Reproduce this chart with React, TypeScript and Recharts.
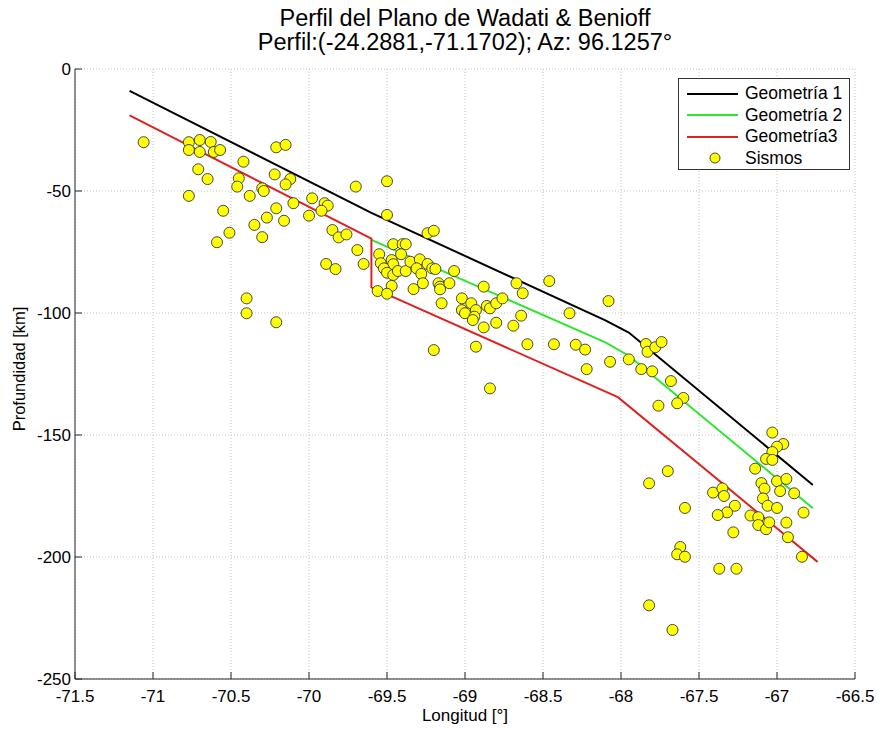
import { ComposedChart, Line, Scatter, XAxis, YAxis, CartesianGrid, Legend } from 'recharts'

const xTicks = [-71.5, -71, -70.5, -70, -69.5, -69, -68.5, -68, -67.5, -67, -66.5]
const yTicks = [-250, -200, -150, -100, -50, 0]

// Geometría 1 (negra)
const geom1Lon = [-71.15, -69.6, -68.1, -67.95, -66.77]
const geom1Depth = [-9, -59, -103, -108, -170.5]

// Geometría 2 (verde)
const geom2Lon = [-69.6, -68.1, -67.95, -66.77]
const geom2Depth = [-70, -112, -117.5, -180]

// Geometría3 (roja), con el salto vertical en -69.6
const geom3Lon = [-71.15, -69.6, -69.6, -68.02, -66.74]
const geom3Depth = [-19, -69.5, -89.5, -134.5, -202]

// sismos
const sismosLon = [
  -71.06, -70.77, -70.77, -70.70, -70.70, -70.63, -70.61, -70.57, -70.71, -70.65,
  -70.77, -70.42, -70.45, -70.46, -70.38, -70.55, -70.51, -70.59, -70.35, -70.30,
  -70.30, -70.29, -70.27, -70.21, -70.15, -70.22, -70.12, -70.15, -70.10, -70.21,
  -70.16, -70.21, -70.40, -70.40, -69.98, -70.00, -69.90, -69.88, -69.92, -69.85,
  -69.81, -69.76, -69.89, -69.83, -69.70, -69.69,
  -69.50, -69.50, -69.24, -69.20, -69.65, -69.55, -69.46, -69.40, -69.38, -69.41,
  -69.54, -69.47, -69.46, -69.52, -69.50, -69.46, -69.43, -69.38, -69.35, -69.29,
  -69.31, -69.28, -69.24, -69.21, -69.19, -69.27, -69.33, -69.47, -69.56, -69.50,
  -69.17, -69.16, -69.16, -69.10, -69.07, -69.15, -69.20, -69.02, -68.96, -69.02,
  -69.00, -68.93, -68.94, -68.95, -68.88, -68.86, -68.84, -68.80, -68.76, -68.88,
  -68.80, -68.93, -68.84, -68.67, -68.63, -68.69, -68.64, -68.60, -68.46, -68.43,
  -68.08, -68.33, -68.29, -68.23, -68.22, -68.07, -67.95, -67.84, -67.83, -67.78,
  -67.74, -67.87, -67.80, -67.68, -67.60, -67.64, -67.76, -67.03, -66.96, -67.00,
  -67.03, -67.07, -67.03, -67.14, -67.70, -67.82, -67.10, -67.08, -67.00, -66.94,
  -66.98, -66.89, -67.41, -67.35, -67.34, -67.59, -67.09, -67.06, -67.00, -67.27,
  -67.32, -67.38, -67.17, -67.12, -67.12, -67.07, -67.05, -66.94, -66.83, -67.28,
  -66.93, -66.84, -67.62, -67.64, -67.59, -67.37, -67.26, -67.82, -67.67,
]
const sismosDepth = [
  -30, -30, -33.2, -29.1, -34, -29.9, -34, -33.2, -41.1, -45.1,
  -52, -38, -44.8, -48.2, -52, -58.1, -67.1, -71, -63.9, -68.9,
  -48.9, -50, -60.9, -32.1, -31.1, -43.2, -45.1, -47.3, -55, -57.1,
  -62.2, -103.8, -94, -100.1, -53, -60.1, -55, -56, -58.1, -66,
  -69, -67.8, -79.9, -82, -48.2, -74.2,
  -46, -59.8, -67.3, -66.3, -79.9, -75.9, -71.8, -71.8, -71.8, -75.9,
  -79.6, -78.3, -80, -81.7, -83.5, -84.4, -82.8, -82.8, -79, -78,
  -81.7, -84, -79.9, -81.7, -82, -87.8, -90.2, -88.9, -91, -92.1,
  -87.8, -89.2, -90.3, -87.8, -82.8, -96, -115.2, -94, -96, -98.8,
  -100.1, -98.8, -101.5, -102.9, -89.2, -97.1, -98.1, -96, -94, -105.9,
  -104, -113.8, -130.9, -87.8, -91.9, -105.2, -101.1, -112.8, -86.9, -112.8,
  -95.1, -100.1, -113, -115, -123, -120, -119, -112.7, -115.9, -114,
  -111.9, -123, -123.9, -127.9, -134.8, -137, -138, -149, -153.7, -154.8,
  -157, -159.8, -160.2, -163.8, -164.8, -169.8, -169.7, -172, -168.9, -168,
  -173, -173.9, -173.6, -171.9, -175, -179.9, -176, -179, -179.9, -179,
  -181.7, -182.8, -183, -183.7, -186.9, -188.6, -185.8, -185.9, -181.8, -189.9,
  -191.9, -199.9, -195.9, -198.9, -199.9, -204.8, -204.8, -219.8, -229.9,
]

const legendItems = [
  { label: 'Geometría 1', color: '#000000', kind: 'line' },
  { label: 'Geometría 2', color: '#2ee62e', kind: 'line' },
  { label: 'Geometría3', color: '#dd2222', kind: 'line' },
  { label: 'Sismos', color: '#ffff00', kind: 'dot' },
]

const zip = (xs: number[], ys: number[]) => xs.map((x, i) => ({ x, y: ys[i] }))

const FONT = '"Liberation Sans", Arial, sans-serif'
const AXIS = '#262626'

function BottomTick({ x, y, payload }: any) {
  return (
    <g>
      <line x1={x} y1={y} x2={x} y2={y - 7} stroke={AXIS} />
      <text x={x} y={y + 23} textAnchor="middle" fontSize={17} fontFamily={FONT} fill="#000">
        {String(payload.value)}
      </text>
    </g>
  )
}

function TopTick({ x, y }: any) {
  return <line x1={x} y1={y} x2={x} y2={y + 7} stroke={AXIS} />
}

function LeftTick({ x, y, payload }: any) {
  return (
    <g>
      <line x1={x} y1={y} x2={x + 7} y2={y} stroke={AXIS} />
      <text x={x - 4} y={y} dy="0.35em" textAnchor="end" fontSize={17} fontFamily={FONT} fill="#000">
        {String(payload.value)}
      </text>
    </g>
  )
}

function RightTick({ x, y }: any) {
  return <line x1={x} y1={y} x2={x - 7} y2={y} stroke={AXIS} />
}

function Dot(props: any) {
  return <circle cx={props.cx} cy={props.cy} r={5.5} fill="#ffff00" stroke="#333" strokeWidth={0.9} />
}

function LegendBox() {
  return (
    <div
      style={{
        width: 170, height: 90, border: '1px solid #333', background: '#fff',
        fontFamily: FONT, fontSize: 17.5, color: '#000', boxSizing: 'content-box',
      }}
    >
      {legendItems.map((it, i) => (
        <div key={i} style={{ display: 'flex', alignItems: 'center', height: 21.5, marginTop: i === 0 ? 4 : 0 }}>
          <svg width={66} height={20} style={{ flex: 'none' }}>
            {it.kind === 'line'
              ? <line x1={8} y1={10} x2={59} y2={10} stroke={it.color} strokeWidth={2} />
              : <circle cx={36} cy={10} r={5} fill={it.color} stroke="#333" strokeWidth={0.9} />}
          </svg>
          <span style={{ whiteSpace: 'nowrap' }}>{it.label}</span>
        </div>
      ))}
    </div>
  )
}

export default function App() {
  const g1 = zip(geom1Lon, geom1Depth)
  const g2 = zip(geom2Lon, geom2Depth)
  const g3 = zip(geom3Lon, geom3Depth)
  const sismos = zip(sismosLon, sismosDepth)

  return (
    <div style={{ position: 'absolute', left: 0, top: 0, width: 877, height: 729, background: '#fff', fontFamily: FONT }}>
      <div style={{ position: 'absolute', left: 75, top: 6, width: 780, textAlign: 'center', fontSize: 23.5, lineHeight: '24px', color: '#000' }}>
        <div>Perfil del Plano de Wadati &amp; Benioff</div>
        <div>Perfil:(-24.2881,-71.1702); Az: 96.1257°</div>
      </div>
      <div style={{ position: 'absolute', left: 19, top: 369, transform: 'translate(-50%, -50%) rotate(-90deg)', fontSize: 16.5, whiteSpace: 'nowrap' }}>
        Profundidad [km]
      </div>
      <div style={{ position: 'absolute', left: 465, top: 716, transform: 'translate(-50%, -50%)', fontSize: 17, whiteSpace: 'nowrap' }}>
        Longitud [°]
      </div>

      <ComposedChart width={877} height={729} margin={{ top: 69, right: 22, left: 0, bottom: 0 }}>
        <CartesianGrid stroke="#c4c4c4" strokeDasharray="1 2" />
        <XAxis
          type="number" dataKey="x" domain={[-71.5, -66.5]} ticks={xTicks} interval={0}
          height={50} tickSize={0} tickMargin={0} tick={<BottomTick />}
          axisLine={{ stroke: AXIS }} allowDataOverflow
        />
        <XAxis
          xAxisId="top" orientation="top" type="number" dataKey="x" domain={[-71.5, -66.5]}
          ticks={xTicks} interval={0} height={0} tickSize={0} tickMargin={0} tick={<TopTick />}
          axisLine={{ stroke: AXIS }} allowDataOverflow
        />
        <YAxis
          type="number" dataKey="y" domain={[-250, 0]} ticks={yTicks} interval={0}
          width={75} tickSize={0} tickMargin={0} tick={<LeftTick />}
          axisLine={{ stroke: AXIS }} allowDataOverflow
        />
        <YAxis
          yAxisId="right" orientation="right" type="number" dataKey="y" domain={[-250, 0]}
          ticks={yTicks} interval={0} width={0} tickSize={0} tickMargin={0} tick={<RightTick />}
          axisLine={{ stroke: AXIS }} allowDataOverflow
        />
        <Legend
          layout="vertical" align="center" verticalAlign="middle"
          wrapperStyle={{ position: 'absolute', top: 78, left: 678, width: 172, height: 92 }}
          content={() => <LegendBox />}
        />
        <Line data={g1} dataKey="y" name="Geometría 1" type="linear" stroke="#000000" strokeWidth={2} dot={false} isAnimationActive={false} />
        <Line data={g2} dataKey="y" name="Geometría 2" type="linear" stroke="#2ee62e" strokeWidth={2} dot={false} isAnimationActive={false} />
        <Line data={g3} dataKey="y" name="Geometría3" type="linear" stroke="#dd2222" strokeWidth={2} dot={false} isAnimationActive={false} />
        <Scatter data={sismos} dataKey="y" name="Sismos" shape={<Dot />} isAnimationActive={false} />
      </ComposedChart>
    </div>
  )
}
